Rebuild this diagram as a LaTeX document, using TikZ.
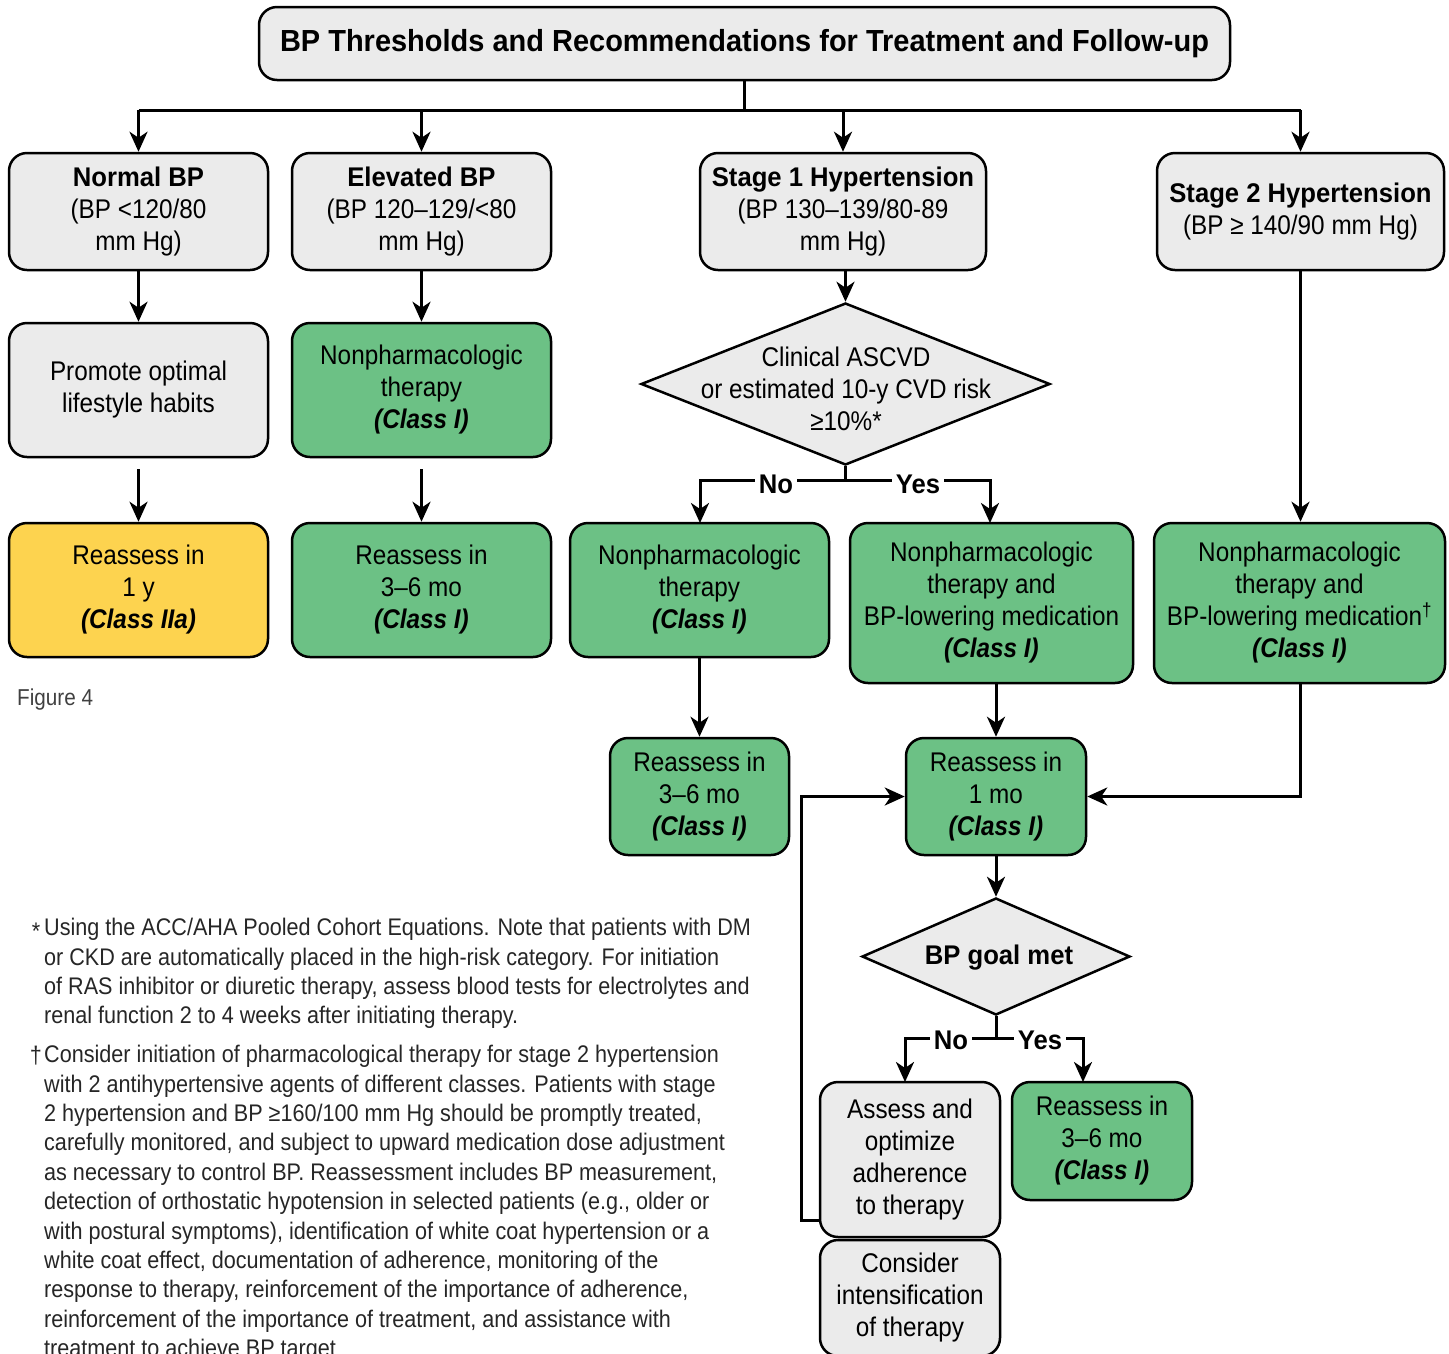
\documentclass[tikz,border=0pt]{standalone}
\usepackage{fontspec}
\setmainfont{Liberation Sans}[FakeStretch=0.9, BoldFeatures={FakeStretch=0.95}]
\usetikzlibrary{arrows.meta,shapes.geometric}

\definecolor{boxgray}{HTML}{EBEBEB}
\definecolor{boxgreen}{HTML}{6CC185}
\definecolor{boxyellow}{HTML}{FDD34F}

\newcommand{\classtag}[1]{\textbf{\textit{(Class #1)}}}

\tikzset{
  wh/.style 2 args={minimum width=#1pt, minimum height=#2pt},
  box/.style={draw, line width=2.5pt, rounded corners=18pt, fill=boxgray, align=center, inner sep=0pt, font=\fontsize{27}{32}\selectfont},
  greenbox/.style={box, fill=boxgreen},
  yellowbox/.style={box, fill=boxyellow},
  decision/.style={draw, line width=2.5pt, diamond, fill=boxgray, inner sep=0pt},
  arr/.style={line width=3pt, -{Stealth[length=20pt,width=18pt,inset=6pt]}},
  link/.style={line width=3pt},
  answer/.style={fill=white, inner sep=4pt, font=\fontsize{27}{32}\selectfont\bfseries},
  note/.style={align=left, inner sep=0pt, anchor=north west, font=\fontsize{24}{29.4}\selectfont, text=black!85},
}

\begin{document}
\begin{tikzpicture}[x=1pt, y=-1pt]
\useasboundingbox (0,0) rectangle (1449,1353);

% title and the four categories
\node[box, wh={971}{73}, font=\fontsize{30.5}{36}\selectfont\bfseries] (title) at (744.5,43.5) {BP Thresholds and Recommendations for Treatment and Follow-up};
\node[box, wh={259}{117}] (normal) at (138.5,211.5) {\textbf{Normal BP}\\(BP <120/80\\mm Hg)};
\node[box, wh={259}{117}] (elevated) at (421.5,211.5) {\textbf{Elevated BP}\\(BP 120–129/<80\\mm Hg)};
\node[box, wh={286}{117}] (stage1) at (843,211.5) {\textbf{Stage 1 Hypertension}\\(BP 130–139/80-89\\mm Hg)};
\node[box, wh={287}{117}] (stage2) at (1300.5,211.5) {\textbf{Stage 2 Hypertension}\\(BP ≥ 140/90 mm Hg)};

\coordinate (bus) at (744.5,110);
\draw[link] (title.south) -- (bus);
\draw[link] (bus -| normal) -- (bus -| stage2);
\foreach \n in {normal,elevated,stage1,stage2}
  \draw[arr] (bus -| \n) -- (\n.north);

% second row
\node[box, wh={259}{134}] (promote) at (138.5,390) {Promote optimal\\lifestyle habits};
\node[greenbox, wh={259}{134}] (nonpharmA) at (421.5,390) {Nonpharmacologic\\therapy\\\classtag{I}};
\node[decision, wh={409}{162}] (risk) at (845.5,384) {};
\node[align=center, inner sep=0pt, font=\fontsize{27}{32}\selectfont] (risktext) at (846,389) {Clinical ASCVD\\or estimated 10-y CVD risk\\≥10\%*};

% third row
\node[yellowbox, wh={259}{134}] (reassessY) at (138.5,590) {Reassess in\\1 y\\\classtag{IIa}};
\node[greenbox, wh={259}{134}] (reassessA) at (421.5,590) {Reassess in\\3–6 mo\\\classtag{I}};
\node[greenbox, wh={259}{134}] (nonpharmB) at (699.5,590) {Nonpharmacologic\\therapy\\\classtag{I}};
\node[greenbox, wh={283}{160}] (medB) at (991.5,603) {Nonpharmacologic\\therapy and\\BP-lowering medication\\\classtag{I}};
\node[greenbox, wh={291}{160}] (medC) at (1299.5,603) {Nonpharmacologic\\therapy and\\BP-lowering medication\textsuperscript{†}\\\classtag{I}};

\draw[arr] (normal) -- (promote);
\draw[arr] (elevated) -- (nonpharmA);
\draw[arr, shorten <=11pt] (promote) -- (reassessY);
\draw[arr, shorten <=11pt] (nonpharmA) -- (reassessA);
\draw[arr] (risk.north |- stage1.south) -- (risk.north);
\draw[arr] (stage2.south) -- (stage2.south |- medC.north);

\coordinate (rsplit) at (845.5,480);
\draw[link] (risk.south) -- (rsplit);
\draw[arr] (rsplit) -| (700,523);
\draw[arr] (rsplit) -| (990,523);
\node[answer] (noA) at (776,484) {No};
\node[answer] (yesA) at (918,484) {Yes};

% follow-up
\node[greenbox, wh={179}{117}] (reassessB) at (699.5,796.5) {Reassess in\\3–6 mo\\\classtag{I}};
\node[greenbox, wh={180}{117}] (reassessM) at (996,796.5) {Reassess in\\1 mo\\\classtag{I}};
\draw[arr] (nonpharmB.south -| reassessB) -- (reassessB);
\draw[arr] (reassessM.north |- medB.south) -- (reassessM);
\draw[arr] (stage2.south |- medC.south) |- (reassessM.east);

\node[decision, wh={268}{117}] (goal) at (996,956.5) {};
\node[inner sep=0pt, font=\fontsize{27}{32}\selectfont\bfseries] (goaltext) at (999,958) {BP goal met};
\draw[arr] (reassessM) -- (goal.north);

\node[box, wh={180}{155}] (adhere) at (910,1159.5) {Assess and\\optimize\\adherence\\to therapy};
\node[greenbox, wh={180}{118}] (reassessC) at (1102,1141) {Reassess in\\3–6 mo\\\classtag{I}};
\node[box, wh={180}{116}] (intens) at (910,1298) {Consider\\intensification\\of therapy};

\coordinate (gsplit) at (996,1038);
\draw[link] (goal.south) -- (gsplit);
\draw[arr] (gsplit) -| (905,1082);
\draw[arr] (gsplit) -| (1083,1082);
\node[answer] (noB) at (951,1040) {No};
\node[answer] (yesB) at (1040,1040) {Yes};

\coordinate (loop) at (801,1220);
\draw[arr] (adhere.west |- loop) -- (loop) |- (reassessM.west);

% caption and footnotes
\node[anchor=west, inner sep=0pt, font=\fontsize{23}{27}\selectfont, text=black!75] (figlabel) at (17,700) {Figure 4};
\node[inner sep=0pt, font=\fontsize{24}{27}\selectfont, text=black!85] (starmark) at (36,931) {*};
\node[note] (noteA) at (44,918) {Using the ACC/AHA Pooled Cohort Equations. Note that patients with DM\\
or CKD are automatically placed in the high-risk category. For initiation\\
of RAS inhibitor or diuretic therapy, assess blood tests for electrolytes and\\
renal function 2 to 4 weeks after initiating therapy.};
\node[inner sep=0pt, font=\fontsize{24}{27}\selectfont, text=black!85] (daggermark) at (36,1056) {†};
\node[note] (noteB) at (44,1045) {Consider initiation of pharmacological therapy for stage 2 hypertension\\
with 2 antihypertensive agents of different classes. Patients with stage\\
2 hypertension and BP ≥160/100 mm Hg should be promptly treated,\\
carefully monitored, and subject to upward medication dose adjustment\\
as necessary to control BP. Reassessment includes BP measurement,\\
detection of orthostatic hypotension in selected patients (e.g., older or\\
with postural symptoms), identification of white coat hypertension or a\\
white coat effect, documentation of adherence, monitoring of the\\
response to therapy, reinforcement of the importance of adherence,\\
reinforcement of the importance of treatment, and assistance with\\
treatment to achieve BP target};
\end{tikzpicture}
\end{document}
